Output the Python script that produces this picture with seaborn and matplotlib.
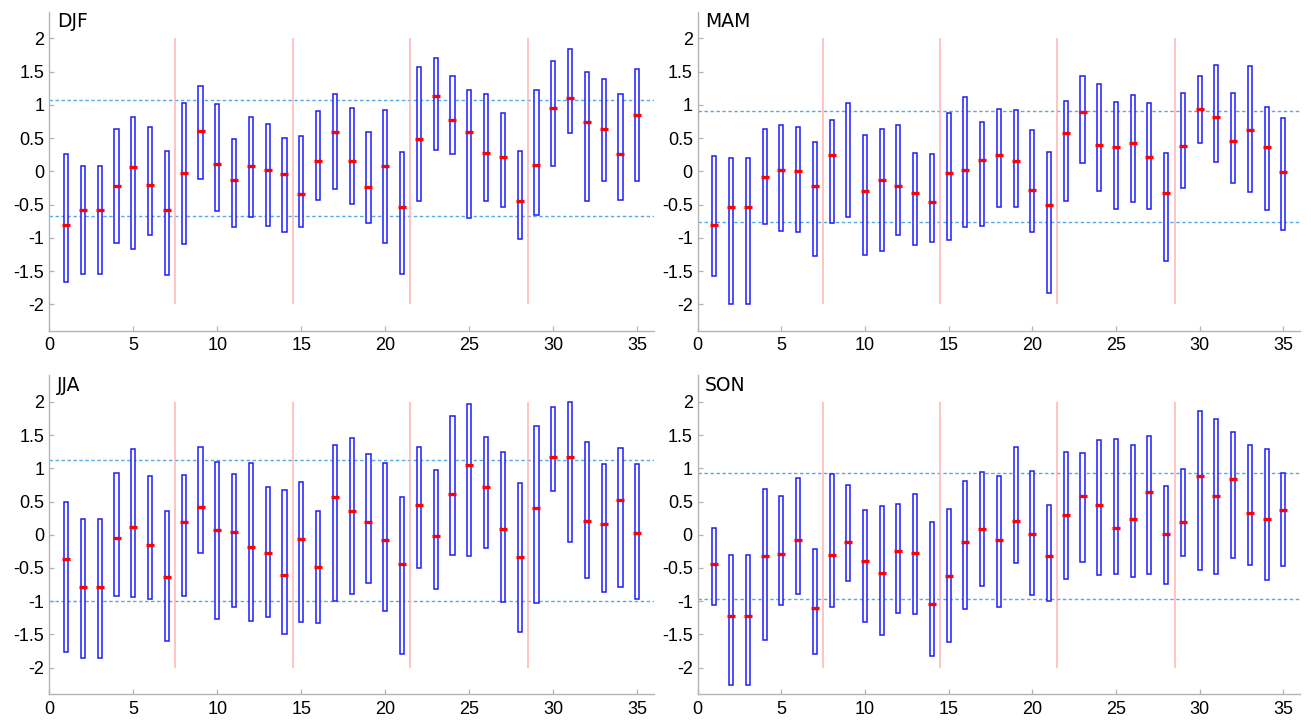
import numpy as np
import pandas as pd
import matplotlib
matplotlib.use("Agg")
import matplotlib.pyplot as plt
import seaborn as sns

nan = np.nan

# ---------------- data ----------------
seasons = ["DJF", "MAM", "JJA", "SON"]
members = list(range(1, 36))

djf_high = [0.26, 0.08, 0.08, 0.64, 0.815, 0.67, 0.30, 1.035, 1.28, 1.005, 0.49, 0.81, 0.71, 0.505, 0.53, 0.905, 1.165,
            0.955, 0.585, 0.915, 0.295, 1.565, 1.71, 1.44, 1.23, 1.17, 0.87, 0.305, 1.22, 1.665, 1.845, 1.495, 1.395, 1.165, 1.54]
djf_low = [-1.67, -1.55, -1.55, -1.07, -1.165, -0.96, -1.565, -1.09, -0.11, -0.59, -0.835, -0.685, -0.815, -0.91, -0.83, -0.425, -0.27,
           -0.49, -0.77, -1.07, -1.55, -0.44, 0.325, 0.265, -0.70, -0.45, -0.54, -1.02, -0.65, 0.085, 0.575, -0.45, -0.15, -0.425, -0.15]
djf_mid = [-0.80, -0.585, -0.585, -0.215, 0.06, -0.21, -0.585, -0.02, 0.61, 0.115, -0.125, 0.075, 0.015, -0.04, -0.335, 0.155, 0.59,
           0.15, -0.23, 0.085, -0.535, 0.49, 1.14, 0.775, 0.59, 0.275, 0.215, -0.44, 0.095, 0.945, 1.10, 0.735, 0.635, 0.26, 0.85]
djf_bounds = [1.07, -0.665]

mam_high = [0.235, 0.20, 0.20, 0.635, 0.70, 0.66, 0.44, 0.765, 1.025, 0.55, 0.64, 0.69, 0.275, 0.265, 0.87, 1.115, 0.74,
            0.93, 0.92, 0.615, 0.285, 1.065, 1.43, 1.31, 1.05, 1.155, 1.035, 0.27, 1.185, 1.44, 1.60, 1.185, 1.59, 0.96, 0.80]
mam_low = [-1.575, -2.0, -2.0, -0.79, -0.89, -0.91, -1.28, -0.77, -0.685, -1.26, -1.20, -0.95, -1.11, -1.06, -1.025, -0.84, -0.82,
           -0.53, -0.53, -0.915, -1.825, -0.445, 0.13, -0.295, -0.57, -0.465, -0.565, -1.35, -0.255, 0.425, 0.135, -0.175, -0.305, -0.585, -0.885]
mam_mid = [-0.80, -0.535, -0.535, -0.08, 0.02, 0.01, -0.215, 0.25, nan, -0.30, -0.125, -0.225, -0.325, -0.465, -0.03, 0.02, 0.165,
           0.245, 0.155, -0.28, -0.505, 0.575, 0.89, 0.40, 0.365, 0.43, 0.215, -0.325, 0.38, 0.94, 0.82, 0.46, 0.62, 0.36, -0.005]
mam_bounds = [0.90, -0.765]

jja_high = [0.50, 0.23, 0.23, 0.93, 1.29, 0.885, 0.35, 0.905, 1.325, 1.10, 0.91, 1.08, 0.715, 0.67, 0.795, 0.35, 1.35,
            1.455, 1.215, 1.08, 0.57, 1.315, 0.975, 1.79, 1.97, 1.47, 1.245, 0.78, 1.635, 1.915, 1.99, 1.39, 1.06, 1.30, 1.065]
jja_low = [-1.765, -1.85, -1.85, -0.915, -0.93, -0.97, -1.595, -0.915, -0.275, -1.27, -1.085, -1.29, -1.235, -1.50, -1.31, -1.335, -0.99,
           -0.89, -0.72, -1.14, -1.795, -0.495, -0.81, -0.31, -0.315, -0.195, -1.015, -1.465, -1.025, 0.66, -0.11, -0.65, -0.855, -0.78, -0.965]
jja_mid = [-0.37, -0.785, -0.785, -0.045, 0.115, -0.15, -0.64, 0.195, 0.42, 0.07, 0.045, -0.18, -0.275, -0.61, -0.06, -0.485, 0.565,
           0.35, 0.185, -0.08, -0.435, 0.455, -0.025, 0.615, 1.045, 0.72, 0.085, -0.335, 0.395, 1.165, 1.17, 0.21, 0.165, 0.53, 0.02]
jja_bounds = [1.13, -1.00]

son_high = [0.105, -0.31, -0.31, 0.685, 0.585, 0.855, -0.21, 0.92, 0.75, 0.37, 0.425, 0.46, 0.62, 0.19, 0.39, 0.805, 0.945,
            0.89, 1.325, 0.955, 0.445, 1.25, 1.23, 1.425, 1.44, 1.355, 1.48, 0.73, 0.99, 1.86, 1.74, 1.545, 1.345, 1.29, 0.93]
son_low = [-1.05, -2.26, -2.26, -1.58, -1.05, -0.895, -1.795, -1.08, -0.69, -1.315, -1.515, -1.18, -1.185, -1.825, -1.62, -1.11, -0.77,
           -1.085, -0.43, -0.91, -0.995, -0.66, -0.41, -0.605, -0.585, -0.63, -0.585, -0.745, -0.32, -0.53, -0.59, -0.345, -0.455, -0.685, -0.475]
son_mid = [-0.445, -1.225, -1.225, -0.315, -0.295, -0.085, -1.105, -0.31, -0.105, -0.40, -0.575, -0.24, -0.275, -1.035, -0.625, -0.115, 0.09,
           -0.08, 0.21, 0.01, -0.325, 0.30, 0.59, 0.44, 0.105, 0.23, 0.65, 0.01, 0.185, 0.89, 0.59, 0.84, 0.325, 0.23, 0.37]
son_bounds = [0.935, -0.96]

group_separators = [7.5, 14.5, 21.5, 28.5]
xticks = [0, 5, 10, 15, 20, 25, 30, 35]
yticks = [-2, -1.5, -1, -0.5, 0, 0.5, 1, 1.5, 2]
ytick_labels = ["-2", "-1.5", "-1", "-0.5", "0", "0.5", "1", "1.5", "2"]

panels = {
    "DJF": (djf_high, djf_low, djf_mid, djf_bounds),
    "MAM": (mam_high, mam_low, mam_mid, mam_bounds),
    "JJA": (jja_high, jja_low, jja_mid, jja_bounds),
    "SON": (son_high, son_low, son_mid, son_bounds),
}

# ---------------- style ----------------
sns.set_style("ticks")
plt.rcParams["font.family"] = ["Liberation Sans", "DejaVu Sans"]

W, H = 1311, 720
fig = plt.figure(figsize=(W / 100, H / 100), dpi=100)

axes_px = {
    "DJF": (49.3, 11.7, 604.8, 319.3),
    "MAM": (697.7, 11.7, 602.3, 319.3),
    "JJA": (49.3, 375.2, 604.8, 319.1),
    "SON": (697.7, 375.2, 602.3, 319.1),
}

spine_col = "#b4b4b4"
box_col = "#1c1cff"
sep_col = "#ffb4b4"
dash_col = "#5aaae2"

for name in seasons:
    hi, lo, md, bnd = panels[name]
    l, t, w, h = axes_px[name]
    ax = fig.add_axes([l / W, 1 - (t + h) / H, w / W, h / H])

    df = pd.DataFrame({"member": members, "high": hi, "low": lo, "mid": md})

    # horizontal dashed reference lines
    for b in bnd:
        ax.axhline(b, color=dash_col, lw=1.0, ls=(0, (2.5, 1.8)), zorder=1)
    # group separators
    ax.vlines(group_separators, -2, 2, color=sep_col, lw=1.1, zorder=1)

    # range boxes
    ax.bar(df["member"], df["high"] - df["low"], bottom=df["low"], width=0.24,
           facecolor="white", edgecolor=box_col, linewidth=1.1, zorder=2)

    # central markers
    dm = df.dropna(subset=["mid"])
    sns.scatterplot(data=dm, x="member", y="mid", ax=ax, marker="_", s=26,
                    color="red", linewidth=2.4, zorder=3, legend=False)

    ax.set_xlim(0, 36)
    ax.set_ylim(-2.4, 2.4)
    ax.set_xticks(xticks)
    ax.set_xticklabels([str(v) for v in xticks])
    ax.set_yticks(yticks)
    ax.set_yticklabels(ytick_labels)
    ax.set_xlabel("")
    ax.set_ylabel("")
    ax.tick_params(direction="in", length=3.6, width=0.9, color=spine_col,
                   labelsize=13, labelcolor="black")
    ax.tick_params(axis="y", pad=3.5)
    ax.tick_params(axis="x", pad=4.5)
    for s in ["top", "right"]:
        ax.spines[s].set_visible(False)
    for s in ["left", "bottom"]:
        ax.spines[s].set_color(spine_col)
        ax.spines[s].set_linewidth(1.0)

    ax.text(0.45, 2.39, name, ha="left", va="top", fontsize=13.5,
            family=["DejaVu Sans"], color="black")

fig.savefig("out.png", dpi=100)
